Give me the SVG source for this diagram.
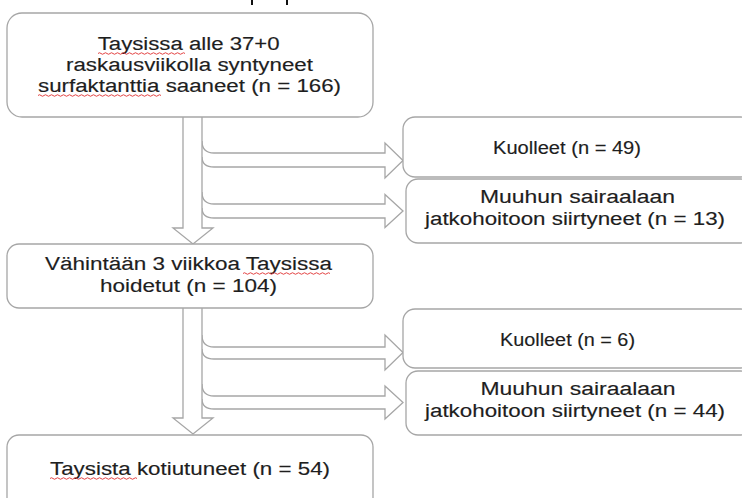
<svg xmlns="http://www.w3.org/2000/svg" width="742" height="498" viewBox="0 0 742 498">
<style>
.box{fill:#fff;stroke:#a6a6a6;stroke-width:1.3}
.arr{fill:#fff;stroke:#a6a6a6;stroke-width:1.3;stroke-linejoin:miter}
.t{font-family:"Liberation Sans",Arial,sans-serif;font-size:18px;fill:#1e1e1e;stroke:#1e1e1e;stroke-width:0.15}
.sq{fill:none;stroke:#e03030;stroke-width:0.9}
</style>
<rect width="742" height="498" fill="#fff"/>
<rect x="251" y="0" width="2" height="5" fill="#111"/>
<rect x="286" y="0" width="2" height="5" fill="#111"/>

<g id="connectors">
  <path class="arr" d="M202 141 Q202 153 214 153 L385 153 L385 143 L403 160.5 L385 178 L385 167 L214 167 Q202 167 202 157"/>
  <path class="arr" d="M202 192 Q202 204 214 204 L385 204 L385 194.5 L403 211 L385 227.5 L385 218 L214 218 Q202 218 202 208"/>
  <path class="arr" d="M183 117 L183 228 L173 228 L193 244 L213 228 L202 228 L202 117"/>
  <path class="arr" d="M202 335 Q202 347 214 347 L385 347 L385 335 L403 352.5 L385 370 L385 359 L214 359 Q202 359 202 349"/>
  <path class="arr" d="M202 384 Q202 396 214 396 L385 396 L385 386 L403 402.5 L385 419 L385 409 L214 409 Q202 409 202 399"/>
  <path class="arr" d="M183 308 L183 418 L173 418 L193 434 L213 418 L202 418 L202 308"/>
</g>

<g id="n1">
  <rect class="box" x="7" y="13" width="366" height="104" rx="15"/>
  <text class="t" x="97.7" y="50" textLength="182" lengthAdjust="spacingAndGlyphs">Taysissa alle 37+0</text>
  <text class="t" x="66" y="71" textLength="247" lengthAdjust="spacingAndGlyphs">raskausviikolla syntyneet</text>
  <text class="t" x="38" y="92" textLength="303" lengthAdjust="spacingAndGlyphs">surfaktanttia saaneet (n = 166)</text>
  <path class="sq" d="M98 53.5 q1.5 -1.5 3 0 t3 0 t3 0 t3 0 t3 0 t3 0 t3 0 t3 0 t3 0 t3 0 t3 0 t3 0 t3 0 t3 0 t3 0 t3 0 t3 0 t3 0 t3 0 t3 0 t3 0 t3 0 t3 0 t3 0 t3 0 t3 0 t3 0 t3 0 t3 0"/>
  <path class="sq" d="M38 95.5 q1.5 -1.5 3 0 t3 0 t3 0 t3 0 t3 0 t3 0 t3 0 t3 0 t3 0 t3 0 t3 0 t3 0 t3 0 t3 0 t3 0 t3 0 t3 0 t3 0 t3 0 t3 0 t3 0 t3 0 t3 0 t3 0 t3 0 t3 0 t3 0 t3 0 t3 0 t3 0 t3 0 t3 0 t3 0 t3 0 t3 0 t3 0 t3 0 t3 0 t3 0 t3 0 t3 0"/>
</g>

<g id="n2">
  <rect class="box" x="403" y="117" width="350" height="60" rx="12"/>
  <text class="t" x="493" y="154" textLength="148" lengthAdjust="spacingAndGlyphs">Kuolleet (n = 49)</text>
</g>

<g id="n3">
  <rect class="box" x="406" y="179" width="347" height="64" rx="12"/>
  <text class="t" x="480" y="203" textLength="195" lengthAdjust="spacingAndGlyphs">Muuhun sairaalaan</text>
  <text class="t" x="425" y="225" textLength="300" lengthAdjust="spacingAndGlyphs">jatkohoitoon siirtyneet (n = 13)</text>
</g>

<g id="n4">
  <rect class="box" x="7" y="244" width="366" height="64" rx="12"/>
  <text class="t" x="45" y="270" textLength="287" lengthAdjust="spacingAndGlyphs">Vähintään 3 viikkoa Taysissa</text>
  <text class="t" x="100" y="291.5" textLength="177" lengthAdjust="spacingAndGlyphs">hoidetut (n = 104)</text>
  <path class="sq" d="M243 273.5 q1.5 -1.5 3 0 t3 0 t3 0 t3 0 t3 0 t3 0 t3 0 t3 0 t3 0 t3 0 t3 0 t3 0 t3 0 t3 0 t3 0 t3 0 t3 0 t3 0 t3 0 t3 0 t3 0 t3 0 t3 0 t3 0 t3 0 t3 0 t3 0 t3 0 t3 0"/>
</g>

<g id="n5">
  <rect class="box" x="403" y="309" width="350" height="59" rx="12"/>
  <text class="t" x="500" y="346" textLength="135" lengthAdjust="spacingAndGlyphs">Kuolleet (n = 6)</text>
</g>

<g id="n6">
  <rect class="box" x="406" y="371" width="347" height="64" rx="12"/>
  <text class="t" x="480.5" y="395" textLength="195" lengthAdjust="spacingAndGlyphs">Muuhun sairaalaan</text>
  <text class="t" x="425" y="417" textLength="300" lengthAdjust="spacingAndGlyphs">jatkohoitoon siirtyneet (n = 44)</text>
</g>

<g id="n7">
  <rect class="box" x="7" y="435" width="366" height="80" rx="12"/>
  <text class="t" x="50" y="475" textLength="280" lengthAdjust="spacingAndGlyphs">Taysista kotiutuneet (n = 54)</text>
  <path class="sq" d="M50 478.5 q1.5 -1.5 3 0 t3 0 t3 0 t3 0 t3 0 t3 0 t3 0 t3 0 t3 0 t3 0 t3 0 t3 0 t3 0 t3 0 t3 0 t3 0 t3 0 t3 0 t3 0 t3 0 t3 0 t3 0 t3 0 t3 0 t3 0 t3 0 t3 0 t3 0 t3 0"/>
</g>
</svg>
